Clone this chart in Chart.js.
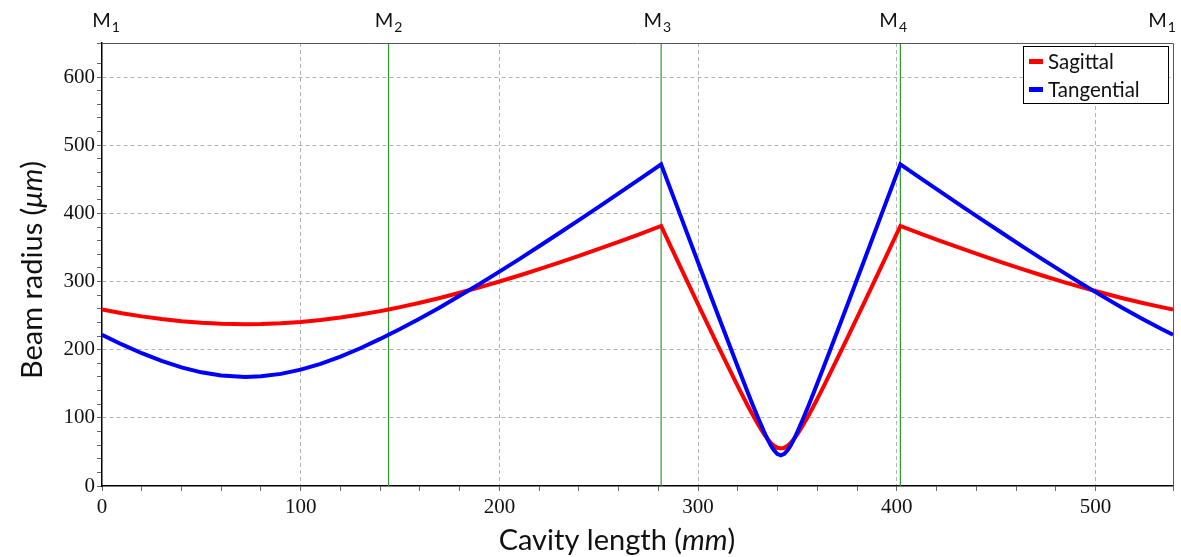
<!DOCTYPE html>
<html>
<head>
<meta charset="utf-8">
<script src="https://cdn.jsdelivr.net/npm/chart.js@4.4.1/dist/chart.umd.min.js"></script>
<style>
  html, body { margin: 0; padding: 0; background: #fff; }
  #wrap { width: 1181px; height: 557px; }
</style>
</head>
<body>
<div id="wrap"><canvas id="c" width="1181" height="557"></canvas></div>
<script>
// ---- data ----
const cavityPosition = [0,10,20,30,40,50,60,72.1,80,90,100,110,120,130,140,144.2,
  150,160,170,180,190,200,210,220,230,240,250,260,270,281.4,
  290,300,310,320,325,327.6,330,333.1,335,336.6,338,339.8,341.6,343.4,345.2,346.6,348.2,350.1,353.2,355.6,358.2,363.2,373.2,383.2,393.2,401.8,
  413.2,423.2,433.2,443.2,453.2,463.2,473.2,483.2,493.2,503.2,513.2,523.2,533.2,539];
const sagittal = [259,253.6,248.9,245.0,241.9,239.6,238.1,237.5,237.8,238.9,240.8,243.6,247.2,251.6,256.6,259,
  262.5,268.9,275.9,283.5,291.5,300.0,308.9,318.1,327.7,337.7,347.9,358.3,369.0,381.5,
  328.1,266.5,205.6,146.1,117.7,103.6,91.2,76.6,68.8,63.3,59.5,56.1,55,56.1,59.5,63.3,68.8,76.6,91.2,103.6,117.7,146.1,205.6,266.5,328.1,381.5,
  369.0,358.3,347.9,337.7,327.7,318.1,308.9,300.0,291.5,283.5,275.9,268.9,262.5,259];
const tangential = [222,207.7,194.8,183.5,174.0,166.8,162.1,160,160.9,164.5,170.7,179.3,189.8,202.1,215.8,222,
  230.4,245.8,262.0,279.0,296.5,314.5,332.9,351.7,370.8,390.1,409.6,429.3,449.2,472,
  405.5,328.0,250.9,174.6,137.2,118.2,101.2,80.2,68.4,59.6,53.1,47.1,45,47.1,53.1,59.6,68.4,80.2,101.2,118.2,137.2,174.6,250.9,328.0,405.5,472,
  449.2,429.3,409.6,390.1,370.8,351.7,332.9,314.5,296.5,279.0,262.0,245.8,230.4,222];
const mirrorNames = ['M','M','M','M','M'];
const mirrorSubs = ['1','2','3','4','1'];
const mirrorPositions = [0,144.2,281.4,401.8,539];
const seriesNames = ['Sagittal','Tangential'];
const xTickLabels = [0,100,200,300,400,500];
const yTickLabels = [0,100,200,300,400,500,600];
const xAxisRange = [0,539];
const yAxisRange = [0,650];

const toPts = ys => ys.map((v,i) => ({x: cavityPosition[i], y: v}));

const overlay = {
  id: 'overlay',
  beforeDatasetsDraw(chart) {
    const {ctx, chartArea: a, scales: {x}} = chart;
    ctx.save();
    ctx.strokeStyle = '#2f9a2f';
    ctx.lineWidth = 1.2;
    mirrorPositions.slice(1, -1).forEach(p => {
      const px = x.getPixelForValue(p);
      ctx.beginPath(); ctx.moveTo(px, a.top); ctx.lineTo(px, a.bottom); ctx.stroke();
    });
    ctx.restore();
  },
  afterDraw(chart) {
    const {ctx, chartArea: a, scales: {x}} = chart;
    ctx.save();
    // frame top/right
    ctx.strokeStyle = '#555';
    ctx.lineWidth = 1;
    ctx.beginPath();
    ctx.moveTo(a.left, a.top + 0.5); ctx.lineTo(a.right + 0.5, a.top + 0.5); ctx.lineTo(a.right + 0.5, a.bottom);
    ctx.stroke();

    // mirror labels
    ctx.fillStyle = '#111';
    ctx.textBaseline = 'alphabetic';
    ctx.textAlign = 'left';
    mirrorPositions.forEach((p, i) => {
      const px = x.getPixelForValue(p);
      const c = a.left + 4 + (px - a.left) * 0.986;
      ctx.font = '20px Lato';
      const wM = ctx.measureText(mirrorNames[i]).width;
      ctx.font = '14px Lato';
      const wS = ctx.measureText(mirrorSubs[i]).width;
      const s = c - (wM + wS + 1) / 2;
      ctx.font = '20px Lato';
      ctx.fillText(mirrorNames[i], s, 27);
      ctx.font = '14px Lato';
      ctx.fillText(mirrorSubs[i], s + wM + 1, 32);
    });

    // axis titles with italic units
    const drawMixed = (parts, cx, cy) => {
      let total = 0;
      parts.forEach(pt => { ctx.font = pt[1]; total += ctx.measureText(pt[0]).width; });
      let sx = cx - total / 2;
      parts.forEach(pt => { ctx.font = pt[1]; ctx.fillText(pt[0], sx, cy); sx += ctx.measureText(pt[0]).width; });
    };
    const nf = '29px Lato', itf = 'italic 29px Lato';
    ctx.fillStyle = '#111';
    drawMixed([['Cavity length (', nf], ['mm', itf], [')', nf]], 617, 550);
    ctx.save();
    ctx.translate(42, 270);
    ctx.rotate(-Math.PI / 2);
    drawMixed([['Beam radius (', nf], ['\u03bcm', itf], [')', nf]], 0, 0);
    ctx.restore();

    // legend
    const lx = a.right - 150, ly = a.top + 3, lw = 145, lh = 57;
    ctx.fillStyle = '#fff';
    ctx.fillRect(lx, ly, lw, lh);
    ctx.strokeStyle = '#000';
    ctx.lineWidth = 1;
    ctx.strokeRect(lx + 0.5, ly + 0.5, lw, lh);
    chart.data.datasets.forEach((ds, i) => {
      const yy = ly + 15 + i * 28;
      ctx.fillStyle = ds.borderColor;
      ctx.fillRect(lx + 6, yy - 2, 14, 5);
      ctx.fillStyle = '#111';
      ctx.font = '20.5px Lato';
      ctx.textBaseline = 'middle';
      ctx.fillText(ds.label, lx + 25, yy + 1);
    });
    ctx.restore();
  }
};

const gridColor = ctx => (ctx.tick && ctx.tick.value % 100 === 0 && ctx.tick.value !== 0) ? '#b4b4b4' : 'rgba(0,0,0,0)';

new Chart(document.getElementById('c'), {
  type: 'scatter',
  data: {
    datasets: [
      { label: seriesNames[0], data: toPts(sagittal), borderColor: '#ff0000', backgroundColor: '#ff0000',
        showLine: true, pointRadius: 0, borderWidth: 4, tension: 0, order: 2 },
      { label: seriesNames[1], data: toPts(tangential), borderColor: '#0000ff', backgroundColor: '#0000ff',
        showLine: true, pointRadius: 0, borderWidth: 4, tension: 0, order: 1 }
    ]
  },
  options: {
    responsive: false,
    devicePixelRatio: 1,
    animation: false,
    layout: { padding: { left: 0, top: 43, right: 8, bottom: 0 } },
    plugins: { legend: { display: false }, tooltip: { enabled: false } },
    scales: {
      x: {
        type: 'linear', min: xAxisRange[0], max: xAxisRange[1],
        afterFit: s => { s.height = 71; },
        ticks: {
          stepSize: 20, autoSkip: false, maxRotation: 0, padding: 4,
          color: '#111', font: { family: 'Liberation Serif', size: 21 },
          callback: v => xTickLabels.includes(v) ? String(v) : ''
        },
        grid: { color: gridColor, tickColor: '#666', tickLength: 5, drawOnChartArea: true },
        border: { color: '#000', width: 1.5, dash: [4, 3] }
      },
      y: {
        type: 'linear', min: yAxisRange[0], max: yAxisRange[1],
        afterFit: s => { s.width = 102; },
        ticks: {
          stepSize: 20, autoSkip: false, padding: 2,
          color: '#111', font: { family: 'Liberation Serif', size: 21 },
          callback: v => yTickLabels.includes(v) ? String(v) : ''
        },
        grid: { color: gridColor, tickColor: '#666', tickLength: 5, drawOnChartArea: true },
        border: { color: '#000', width: 1.5, dash: [4, 3] }
      }
    }
  },
  plugins: [overlay]
});
</script>
</body>
</html>
